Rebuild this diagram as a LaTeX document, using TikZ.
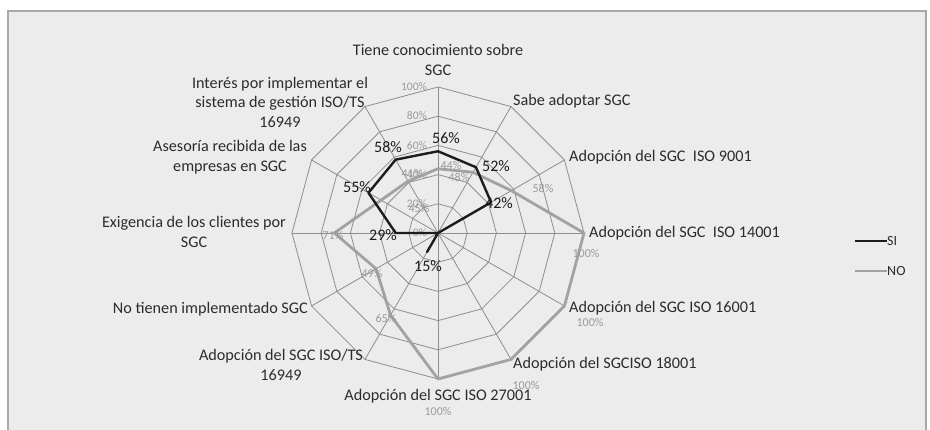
\documentclass[tikz,border=0pt]{standalone}
\usepackage{fontspec}
\setmainfont{Carlito}
\usepackage{tikz}
\usetikzlibrary{calc,
                positioning}
\definecolor{chartbg}{HTML}{ECECEC}
\definecolor{framegray}{HTML}{A8A8A8}
\definecolor{webgray}{HTML}{8E8E8E}
\definecolor{nogray}{HTML}{A2A2A2}
\definecolor{sidark}{HTML}{1C1C1C}
\definecolor{labtext}{HTML}{2C2C2C}
\definecolor{ticktext}{HTML}{9A9A9A}
\tikzset{
        webline/.style={draw=webgray, line width=0.8pt},
        axlabel/.style={text=labtext, align=center, inner sep=0pt,
                        font=\fontsize{16.2}{19.5}\selectfont},
        ticklab/.style={text=ticktext, inner sep=0pt, anchor=east,
                        font=\fontsize{11.5}{13}\selectfont},
        nolab/.style={text=ticktext, inner sep=0pt,
                      font=\fontsize{12}{14}\selectfont},
        silab/.style={text=sidark, inner sep=0pt,
                      font=\fontsize{16}{18}\selectfont},
        siline/.style={draw=sidark, line width=2.4pt, line join=round},
        noline/.style={draw=nogray, line width=2.8pt, line join=round},
}

\begin{document}
\begin{tikzpicture}[x=1pt, y=1pt]
    % background and frame
    \fill[white] (0,0) rectangle (930,430);
    \useasboundingbox (0,0) rectangle (930,430);
    \fill[chartbg] (8,0) rectangle (926,419);
    \draw[framegray, line width=1.2pt] (8,-2) -- (8,419) -- (926,419) -- (926,-2);

    \coordinate (ctr) at (438,197);

    % web: spokes and rings
    \foreach \a in {0,30,...,330}
        \draw[webline] (ctr) -- ($(ctr)+(\a:146)$);
    \foreach \r in {29.2,58.4,87.6,116.8,146}
        \draw[webline] ($(ctr)+(0:\r)$)
            \foreach \a in {30,60,...,330} { -- ($(ctr)+(\a:\r)$) } -- cycle;

    % axis ticks
    \node[ticklab] (t100) at (427,343) {100\%};
    \node[ticklab] (t80) at (427,314) {80\%};
    \node[ticklab] (t60) at (427,284) {60\%};
    \node[ticklab] (t40) at (427,255) {40\%};
    \node[ticklab] (t20) at (427,226) {20\%};
    \node[ticklab] (t0) at (427,197) {0\%};

    % NO series
    \coordinate (no0) at ($(ctr)+(90:{0.44*146})$);
    \coordinate (no1) at ($(ctr)+(60:{0.48*146})$);
    \coordinate (no2) at ($(ctr)+(30:{0.58*146})$);
    \coordinate (no3) at ($(ctr)+(0:146)$);
    \coordinate (no4) at ($(ctr)+(-30:146)$);
    \coordinate (no5) at ($(ctr)+(-60:146)$);
    \coordinate (no6) at ($(ctr)+(-90:146)$);
    \coordinate (no7) at ($(ctr)+(-120:{0.65*146})$);
    \coordinate (no8) at ($(ctr)+(-150:{0.49*146})$);
    \coordinate (no9) at ($(ctr)+(180:{0.71*146})$);
    \coordinate (no10) at ($(ctr)+(150:{0.45*146})$);
    \coordinate (no11) at ($(ctr)+(120:{0.41*146})$);

    \draw[noline] (no0) -- (no1) -- (no2) -- (no3) -- (no4) -- (no5)
        -- (no6) -- (no7) -- (no8) -- (no9) -- (no10) -- (no11) -- cycle;

    % SI series
    \coordinate (si0) at ($(ctr)+(90:{0.56*146})$);
    \coordinate (si1) at ($(ctr)+(60:{0.52*146})$);
    \coordinate (si2) at ($(ctr)+(30:{0.42*146})$);
    \coordinate (si7) at ($(ctr)+(-120:{0.15*146})$);
    \coordinate (si9) at ($(ctr)+(180:{0.29*146})$);
    \coordinate (si10) at ($(ctr)+(150:{0.55*146})$);
    \coordinate (si11) at ($(ctr)+(120:{0.58*146})$);

    \draw[siline] (si0) -- (si1) -- (si2) -- (ctr) -- (si7) -- (ctr)
        -- (si9) -- (si10) -- (si11) -- cycle;

    % NO labels
    \node[nolab] (lno0) at (451,265) {44\%};
    \node[nolab] (lno1) at (459,253) {48\%};
    \node[nolab] (lno2) at (543,242) {58\%};
    \node[nolab] (lno3) at (586,177) {100\%};
    \node[nolab] (lno4) at (590,108) {100\%};
    \node[nolab] (lno5) at (526,45) {100\%};
    \node[nolab] (lno6) at (438,19) {100\%};
    \node[nolab] (lno7) at (386,112) {65\%};
    \node[nolab] (lno8) at (372,157) {49\%};
    \node[nolab] (lno9) at (333,195) {71\%};
    \node[nolab] (lno10) at (419,222) {45\%};
    \node[nolab] (lno11) at (412,257) {41\%};

    % SI labels
    \node[silab] (lsi0) at (446,292) {56\%};
    \node[silab] (lsi1) at (496,264) {52\%};
    \node[silab] (lsi2) at (499,227) {42\%};
    \node[silab] (lsi7) at (428,164) {15\%};
    \node[silab] (lsi9) at (383,195) {29\%};
    \node[silab] (lsi10) at (357,243) {55\%};
    \node[silab] (lsi11) at (388,283) {58\%};

    % axis labels
    \node[axlabel] (ax0) at (438,370) {Tiene conocimiento sobre\\SGC};
    \node[axlabel, anchor=west] (ax1) at (513,329) {Sabe adoptar SGC};
    \node[axlabel, anchor=west] (ax2) at (569,273) {Adopción del SGC~ ISO 9001};
    \node[axlabel, anchor=west] (ax3) at (589,197) {Adopción del SGC~ ISO 14001};
    \node[axlabel, anchor=west] (ax4) at (569,122) {Adopción del SGC ISO 16001};
    \node[axlabel, anchor=west] (ax5) at (513,66) {Adopción del SGCISO 18001};
    \node[axlabel] (ax6) at (438,34) {Adopción del SGC ISO 27001};
    \node[axlabel] (ax7) at (281,65) {Adopción del SGC ISO/TS\\16949};
    \node[axlabel, anchor=east] (ax8) at (308,121) {No tienen implementado SGC};
    \node[axlabel] (ax9) at (194,198) {Exigencia de los clientes por\\SGC};
    \node[axlabel] (ax10) at (230,273) {Asesoría recibida de las\\empresas en SGC};
    \node[axlabel] (ax11) at (280,328)
        {Interés por implementar el\\sistema de gestión ISO/TS\\16949};

    % legend
    \coordinate (keysi) at (855,189);
    \coordinate (keyno) at (855,159);
    \node[axlabel, anchor=west, font=\fontsize{14}{16}\selectfont,
          right=32pt of keysi] (legsi) {SI};
    \node[axlabel, anchor=west, font=\fontsize{14}{16}\selectfont,
          right=32pt of keyno] (legno) {NO};
    \draw[siline] (keysi) -- (legsi.west);
    \draw[noline] (keyno) -- (legno.west);
\end{tikzpicture}
\end{document}
